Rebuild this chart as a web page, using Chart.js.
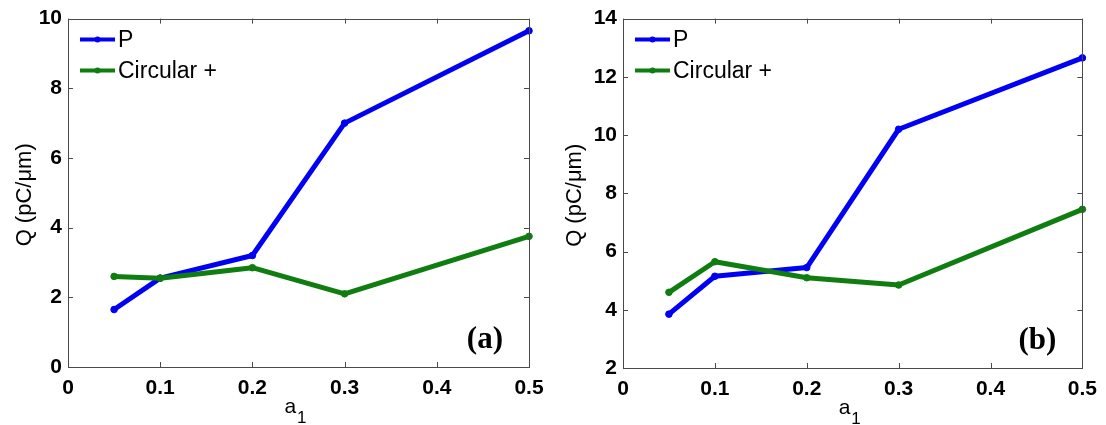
<!DOCTYPE html>
<html><head><meta charset="utf-8">
<script src="https://cdn.jsdelivr.net/npm/chart.js@4.4.1/dist/chart.umd.min.js"></script>
<style>
html,body{margin:0;padding:0;background:#fff;}
#wrap{position:relative;width:1106px;height:425px;background:#fff;}
.pan{position:absolute;top:0;width:553px;height:425px;}
</style></head><body>
<div id="wrap">
<div class="pan" style="left:0"><canvas id="ca"></canvas></div>
<div class="pan" style="left:553px"><canvas id="cb"></canvas></div>
</div>
<script>
// ---- data ----
const a1Values = [0.05, 0.1, 0.2, 0.3, 0.5];
const panelA_P = [1.65, 2.55, 3.2, 7.0, 9.65];
const panelA_Circ = [2.6, 2.55, 2.85, 2.1, 3.75];
const panelB_P = [3.85, 5.15, 5.45, 10.2, 12.65];
const panelB_Circ = [4.6, 5.65, 5.1, 4.85, 7.45];
const xTicks = [0, 0.1, 0.2, 0.3, 0.4, 0.5];
const xTickLabels = ['0', '0.1', '0.2', '0.3', '0.4', '0.5'];
const yTicksA = [0, 2, 4, 6, 8, 10];
const yTickLabelsA = ['0', '2', '4', '6', '8', '10'];
const yTicksB = [2, 4, 6, 8, 10, 12, 14];
const yTickLabelsB = ['2', '4', '6', '8', '10', '12', '14'];
const seriesNames = ['P', 'Circular +'];
const panelLabels = ['(a)', '(b)'];
const xTitleMain = 'a';
const xTitleSub = '1';
const yTitle = 'Q (pC/\u03bcm)';

const BLUE = '#0000f5';
const GREEN = '#0f7d0f';
const SANS = '"Liberation Sans", Arial, Helvetica, sans-serif';
const SERIF = '"Liberation Serif", "Times New Roman", serif';

const framePlugin = {
  id: 'frame',
  afterDatasetsDraw(chart, args, opts) {
    const ctx = chart.ctx, ca = chart.chartArea;
    const xs = chart.scales.x, ys = chart.scales.y;
    ctx.save();
    ctx.strokeStyle = '#4a4a4a';
    ctx.lineWidth = 1;
    ctx.strokeRect(Math.round(ca.left) + 0.5, Math.round(ca.top) + 0.5,
                   Math.round(ca.right - ca.left), Math.round(ca.bottom - ca.top));
    const tl = 5;
    ctx.beginPath();
    xs.ticks.forEach(t => {
      const px = Math.round(xs.getPixelForValue(t.value)) + 0.5;
      ctx.moveTo(px, ca.bottom); ctx.lineTo(px, ca.bottom - tl);
      ctx.moveTo(px, ca.top); ctx.lineTo(px, ca.top + tl);
    });
    ys.ticks.forEach(t => {
      const py = Math.round(ys.getPixelForValue(t.value)) + 0.5;
      ctx.moveTo(ca.left, py); ctx.lineTo(ca.left + tl, py);
      ctx.moveTo(ca.right, py); ctx.lineTo(ca.right - tl, py);
    });
    ctx.stroke();

    // legend
    const ds = chart.data.datasets;
    ds.forEach((d, i) => {
      const y = ca.top + 21 + i * 31;
      const x0 = ca.left + 12, x1 = ca.left + 47;
      ctx.strokeStyle = d.borderColor;
      ctx.lineWidth = 4;
      ctx.beginPath(); ctx.moveTo(x0, y); ctx.lineTo(x1, y); ctx.stroke();
      ctx.fillStyle = d.borderColor;
      ctx.beginPath(); ctx.arc((x0 + x1) / 2, y, 3, 0, Math.PI * 2); ctx.fill();
      ctx.fillStyle = '#000';
      ctx.font = '23px ' + SANS;
      ctx.textAlign = 'left';
      ctx.textBaseline = 'middle';
      ctx.fillText(d.label, x1 + 3, y + 1);
    });

    // panel label
    ctx.fillStyle = '#000';
    ctx.font = 'bold 31px ' + SERIF;
    ctx.textAlign = 'right';
    ctx.textBaseline = 'middle';
    ctx.fillText(opts.panelLabel, ca.right - 26, ca.bottom - 27);

    // x title a_1
    const cx = (ca.left + ca.right) / 2;
    ctx.textAlign = 'left';
    ctx.textBaseline = 'alphabetic';
    ctx.font = '21px ' + SANS;
    const wA = ctx.measureText(xTitleMain).width;
    ctx.font = '17px ' + SANS;
    const wS = ctx.measureText(xTitleSub).width;
    const sx = cx - (wA + wS + 1) / 2 - 3;
    ctx.font = '21px ' + SANS;
    ctx.fillText(xTitleMain, sx, ca.bottom + 46);
    ctx.font = '17px ' + SANS;
    ctx.fillText(xTitleSub, sx + wA + 1, ca.bottom + 56);

    // y title
    ctx.save();
    ctx.translate(opts.yTitleX, (ca.top + ca.bottom) / 2 + 2);
    ctx.rotate(-Math.PI / 2);
    ctx.font = '22px ' + SANS;
    ctx.textAlign = 'center';
    ctx.textBaseline = 'middle';
    ctx.fillText(yTitle, 0, 0);
    ctx.restore();
    ctx.restore();
  }
};

function makeChart(id, pVals, cVals, yT, yL, cfg) {
  const pts = vals => a1Values.map((x, i) => ({ x: x, y: vals[i] }));
  const dsBase = { borderWidth: 5, pointRadius: 3.3, pointHoverRadius: 3.3, pointBorderWidth: 1, tension: 0, clip: false, borderJoinStyle: 'round', borderCapStyle: 'round' };
  return new Chart(document.getElementById(id), {
    type: 'line',
    data: {
      datasets: [
        Object.assign({ label: seriesNames[0], data: pts(pVals), borderColor: BLUE, backgroundColor: BLUE, pointBackgroundColor: BLUE, pointBorderColor: BLUE, order: 2 }, dsBase),
        Object.assign({ label: seriesNames[1], data: pts(cVals), borderColor: GREEN, backgroundColor: GREEN, pointBackgroundColor: GREEN, pointBorderColor: GREEN, order: 1 }, dsBase)
      ]
    },
    options: {
      responsive: false,
      animation: false,
      devicePixelRatio: 1,
      layout: { padding: { top: cfg.top, right: cfg.right, left: 0, bottom: 0 } },
      plugins: { legend: { display: false }, tooltip: { enabled: false }, frame: { panelLabel: cfg.label, yTitleX: cfg.yTitleX } },
      scales: {
        x: {
          type: 'linear', min: 0, max: 0.5,
          afterBuildTicks: s => { s.ticks = xTicks.map(v => ({ value: v })); },
          afterFit: s => { s.height = cfg.xh; },
          grid: { display: false, drawTicks: false },
          border: { display: false },
          ticks: { padding: 9, color: '#000', font: { family: SANS, size: 21, weight: 'bold' }, maxRotation: 0, autoSkip: false,
                   callback: (v) => { const i = xTicks.findIndex(t => Math.abs(t - v) < 1e-9); return i >= 0 ? xTickLabels[i] : ''; } }
        },
        y: {
          type: 'linear', min: yT[0], max: yT[yT.length - 1],
          afterBuildTicks: s => { s.ticks = yT.map(v => ({ value: v })); },
          afterFit: s => { s.width = cfg.yw; },
          grid: { display: false, drawTicks: false },
          border: { display: false },
          ticks: { padding: 6, color: '#000', font: { family: SANS, size: 21, weight: 'bold' }, autoSkip: false,
                   callback: (v) => { const i = yT.indexOf(v); return i >= 0 ? yL[i] : ''; } }
        }
      }
    },
    plugins: [framePlugin]
  });
}

['ca', 'cb'].forEach(id => { const c = document.getElementById(id); c.width = 553; c.height = 425; c.style.width = '553px'; c.style.height = '425px'; });
makeChart('ca', panelA_P, panelA_Circ, yTicksA, yTickLabelsA, { top: 14, right: 24, xh: 58, yw: 68, label: panelLabels[0], yTitleX: 25 });
makeChart('cb', panelB_P, panelB_Circ, yTicksB, yTickLabelsB, { top: 15, right: 22, xh: 57, yw: 70, label: panelLabels[1], yTitleX: 22 });
</script>
</body></html>
